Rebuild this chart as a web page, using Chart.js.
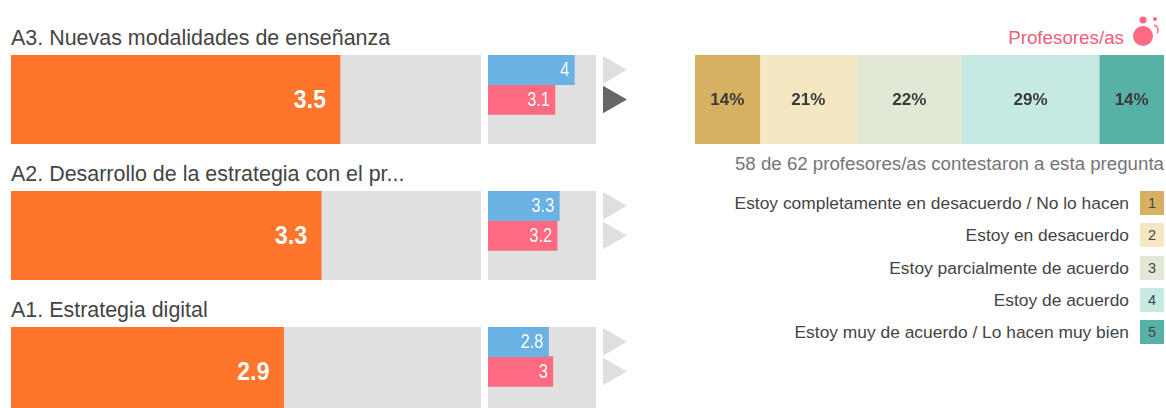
<!DOCTYPE html>
<html lang="es">
<head>
<meta charset="utf-8">
<title>Profesores/as</title>
<script src="https://cdn.jsdelivr.net/npm/chart.js@4"></script>
<style>
  html, body { margin: 0; padding: 0; background: #fff; }
  body { position: relative; width: 1166px; height: 408px; overflow: hidden; font-family: "Liberation Sans", Arial, sans-serif; color: #444; }
  canvas { position: absolute; }
  .titulo { position: absolute; left: 11px; font-size: 22px; line-height: 24px; white-space: nowrap; transform-origin: left center; transform: scaleX(0.975); }
  .perfil { position: absolute; right: 42px; top: 26px; font-size: 18.8px; line-height: 24px; color: #f0607a; }
  .nota { position: absolute; right: 2px; top: 152px; font-size: 18.7px; line-height: 24px; color: #757575; white-space: nowrap; }
  .leyenda { position: absolute; right: 37px; font-size: 17.4px; line-height: 24px; white-space: nowrap; }
  .caja { position: absolute; left: 1140px; width: 24px; height: 24px; font-size: 14.5px; line-height: 24px; text-align: center; }
  svg { position: absolute; left: 1130px; top: 12px; }
</style>
</head>
<body>
<svg width="36" height="36" viewBox="0 0 36 36">
  <circle cx="13" cy="24" r="10" fill="#fe6b81"></circle>
  <circle cx="13" cy="8" r="3.6" fill="#fe6b81"></circle>
  <circle cx="25" cy="7" r="2" fill="#fe6b81"></circle>
  <path d="M24 13 A 5 5 0 0 1 27 21" fill="none" stroke="#fe6b81" stroke-width="1.5"></path>
</svg>
<div class="perfil">Profesores/as</div>
<div class="nota">58 de 62 profesores/as contestaron a esta pregunta</div>

<script>
// Datos
const categorias = [
  "A3. Nuevas modalidades de enseñanza",
  "A2. Desarrollo de la estrategia con el pr...",
  "A1. Estrategia digital",
];
const valoresGlobal = [3.5, 3.3, 2.9];
const valoresAzul = [4, 3.3, 2.8];
const valoresRosa = [3.1, 3.2, 3];
const escalaMax = 5;
const flechasAzul = ["#dfdfdf", "#dfdfdf", "#dfdfdf"];
const flechasRosa = ["#666666", "#dfdfdf", "#dfdfdf"];

const respuestas = [
  "Estoy completamente en desacuerdo / No lo hacen",
  "Estoy en desacuerdo",
  "Estoy parcialmente de acuerdo",
  "Estoy de acuerdo",
  "Estoy muy de acuerdo / Lo hacen muy bien",
];
const porcentajes = [13.8, 20.7, 22.4, 29.3, 13.8];
const coloresRespuesta = ["#d7b162", "#f5e7c2", "#e1e8d5", "#c7e9e3", "#58b1a7"];

// Filas del lado izquierdo, de arriba abajo
const filasY = [55, 191, 327];
const altoFila = 89;

// Escribe el valor dentro de cada barra, pegado a su extremo derecho
const etiquetasBarras = {
  id: "etiquetasBarras",
  afterDatasetsDraw(chart, args, opts) {
    const ctx = chart.ctx;
    chart.data.datasets.forEach((dataset, i) => {
      if (!dataset.etiquetar) return;
      chart.getDatasetMeta(i).data.forEach((bar, j) => {
        const valor = dataset.data[j];
        if (valor === null) return;
        ctx.save();
        ctx.font = opts.font;
        ctx.fillStyle = opts.color;
        ctx.textBaseline = "middle";
        ctx.textAlign = "right";
        ctx.translate(bar.x - opts.padding, bar.y + 1);
        ctx.scale(opts.escalaX, 1);
        ctx.fillText(String(valor), 0, 0);
        ctx.restore();
      });
    });
  },
};

function crearCanvas(x, y, ancho, alto) {
  const canvas = document.createElement("canvas");
  canvas.width = ancho;
  canvas.height = alto;
  canvas.style.left = x + "px";
  canvas.style.top = y + "px";
  canvas.style.width = ancho + "px";
  canvas.style.height = alto + "px";
  document.body.appendChild(canvas);
  return canvas.getContext("2d");
}

function opcionesBarras(pluginOpts) {
  return {
    indexAxis: "y",
    responsive: false,
    animation: false,
    scales: {
      x: { display: false, min: 0, max: escalaMax },
      y: { display: false },
    },
    plugins: {
      legend: { display: false },
      tooltip: { enabled: false },
      etiquetasBarras: pluginOpts,
    },
  };
}

function dibujarFila(i) {
  const y = filasY[i];

  // Barra grande con el valor global
  new Chart(crearCanvas(11, y, 470, altoFila), {
    type: "bar",
    data: {
      labels: [categorias[i]],
      datasets: [
        { data: [valoresGlobal[i]], backgroundColor: "#ff752b", etiquetar: true, grouped: false, order: 1, barPercentage: 1, categoryPercentage: 1 },
        { data: [escalaMax], backgroundColor: "#e0e0e0", grouped: false, order: 2, barPercentage: 1, categoryPercentage: 1 },
      ],
    },
    options: opcionesBarras({ font: "bold 26px 'Liberation Sans'", color: "#fff", padding: 14, escalaX: 0.9 }),
    plugins: [etiquetasBarras],
  });

  // Barras pequeñas: azul arriba, rosa debajo, tercer hueco vacio
  new Chart(crearCanvas(488, y, 108, altoFila), {
    type: "bar",
    data: {
      labels: ["azul", "rosa", ""],
      datasets: [
        { data: [valoresAzul[i], null, null], backgroundColor: "#6ab2e3", etiquetar: true, grouped: false, order: 1, barPercentage: 1, categoryPercentage: 1 },
        { data: [null, valoresRosa[i], null], backgroundColor: "#fe6b81", etiquetar: true, grouped: false, order: 1, barPercentage: 1, categoryPercentage: 1 },
        { data: [escalaMax, escalaMax, escalaMax], backgroundColor: "#e0e0e0", grouped: false, order: 2, barPercentage: 1, categoryPercentage: 1 },
      ],
    },
    options: opcionesBarras({ font: "20px 'Liberation Sans'", color: "#fff", padding: 5, escalaX: 0.82 }),
    plugins: [etiquetasBarras],
  });

  // Flechas de comparacion, alineadas con las barras pequeñas
  new Chart(crearCanvas(600, y, 30, altoFila), {
    type: "line",
    data: {
      labels: ["azul", "rosa", ""],
      datasets: [
        {
          data: [0, 0, null],
          showLine: false,
          clip: false,
          pointStyle: "triangle",
          pointRadius: 16,
          pointRotation: 90,
          pointBorderWidth: 0,
          pointBackgroundColor: [flechasAzul[i], flechasRosa[i], flechasAzul[i]],
        },
      ],
    },
    options: {
      indexAxis: "y",
      responsive: false,
      animation: false,
      layout: { autoPadding: false },
      scales: {
        x: { display: false, min: -11, max: 19 },
        y: { display: false, offset: true },
      },
      plugins: { legend: { display: false }, tooltip: { enabled: false } },
    },
  });

  const titulo = document.createElement("div");
  titulo.className = "titulo";
  titulo.style.top = y - 29 + "px";
  titulo.textContent = categorias[i];
  document.body.appendChild(titulo);
}

function dibujarApilada() {
  new Chart(crearCanvas(695, 55, 469, altoFila), {
    type: "bar",
    data: {
      labels: ["Profesores/as"],
      datasets: respuestas.map((r, k) => ({
        label: r,
        data: [porcentajes[k]],
        backgroundColor: coloresRespuesta[k],
        barPercentage: 1,
        categoryPercentage: 1,
      })),
    },
    options: {
      indexAxis: "y",
      responsive: false,
      animation: false,
      scales: {
        x: { display: false, stacked: true, min: 0, max: 100 },
        y: { display: false, stacked: true },
      },
      plugins: { legend: { display: false }, tooltip: { enabled: false } },
    },
    plugins: [
      {
        id: "etiquetasPorcentaje",
        afterDatasetsDraw(chart) {
          const ctx = chart.ctx;
          ctx.save();
          ctx.font = "bold 17px 'Liberation Sans'";
          ctx.fillStyle = "#3a3a3a";
          ctx.textAlign = "center";
          ctx.textBaseline = "middle";
          chart.data.datasets.forEach((dataset, k) => {
            const bar = chart.getDatasetMeta(k).data[0];
            ctx.fillText(Math.round(dataset.data[0]) + "%", (bar.x + bar.base) / 2, bar.y + 1);
          });
          ctx.restore();
        },
      },
    ],
  });
}

function dibujarLeyenda() {
  respuestas.forEach((texto, k) => {
    const top = 191 + k * 32.3;
    const etiqueta = document.createElement("div");
    etiqueta.className = "leyenda";
    etiqueta.style.top = top + "px";
    etiqueta.textContent = texto;
    document.body.appendChild(etiqueta);

    const caja = document.createElement("div");
    caja.className = "caja";
    caja.style.top = top + "px";
    caja.style.background = coloresRespuesta[k];
    caja.textContent = k + 1;
    document.body.appendChild(caja);
  });
}

categorias.forEach((c, i) => dibujarFila(i));
dibujarApilada();
dibujarLeyenda();
</script>
</body>
</html>
